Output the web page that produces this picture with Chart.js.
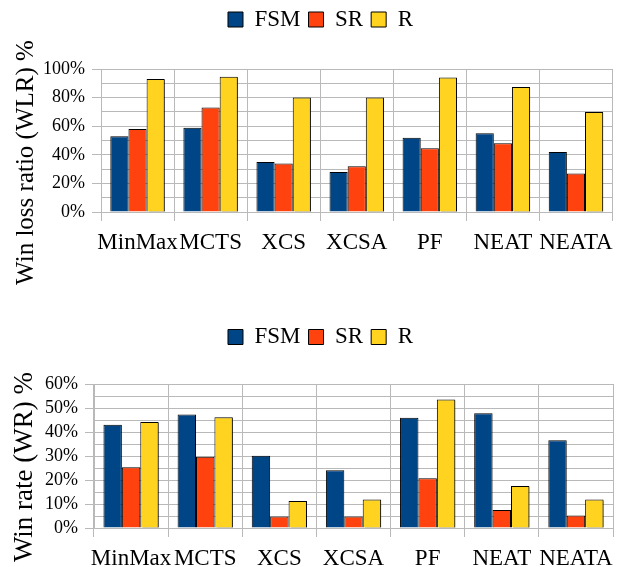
<!DOCTYPE html>
<html>
<head>
<meta charset="utf-8">
<script src="https://cdn.jsdelivr.net/npm/chart.js@4.4.0/dist/chart.umd.min.js"></script>
<style>
  html, body { margin: 0; padding: 0; background: #ffffff; }
  #wrap { position: relative; width: 621px; height: 567px; overflow: hidden; }
  #wlr { position: absolute; left: 0; top: 0; }
  #wr { position: absolute; left: 0; top: 300px; }
</style>
</head>
<body>
<div id="wrap">
  <canvas id="wlr" width="621" height="300"></canvas>
  <canvas id="wr" width="621" height="267"></canvas>
</div>
<script>
// Agents compared in both panels
const agents = ['MinMax', 'MCTS', 'XCS', 'XCSA', 'PF', 'NEAT', 'NEATA'];
const seriesNames = ['FSM', 'SR', 'R'];

// Win loss ratio (%) per opponent
const wlrFSM = [53, 59, 35, 28, 52, 55, 42];
const wlrSR  = [58, 73, 34, 32, 44.5, 48, 27];
const wlrR   = [93, 94.5, 80, 80, 94, 87.5, 70];

// Win rate (%) per opponent
const wrFSM = [43, 47.3, 30.1, 24.1, 45.9, 47.8, 36.6];
const wrSR  = [25.3, 29.7, 4.8, 4.8, 20.7, 7.5, 5.2];
const wrR   = [44.2, 46.1, 11.2, 11.9, 53.5, 17.5, 11.9];

// Labelled ticks of each value axis
const wlrTicks = [0, 20, 40, 60, 80, 100];
const wrTicks  = [0, 10, 20, 30, 40, 50, 60];

const wlrTitle = 'Win loss ratio (WLR) %';
const wrTitle  = 'Win rate (WR) %';

const colors = ['#004586', '#ff420e', '#ffd320'];
const gridColor = '#b9b9b9';
const serif = "'Liberation Serif', 'Times New Roman', serif";

// Extra room between the legend and the plot
const legendGap = {
  id: 'legendGap',
  beforeInit(chart, args, opts) {
    const fit = chart.legend.fit;
    chart.legend.fit = function () {
      fit.call(this);
      this.height += opts.gap;
    };
  }
};

// Drop shadow on the right-hand bar of each group
const barShadow = {
  id: 'barShadow',
  beforeDatasetDraw(chart, args) {
    const c = chart.ctx;
    c.save();
    if (args.index === chart.data.datasets.length - 1) {
      c.shadowColor = 'rgba(0,0,0,0.45)';
      c.shadowOffsetX = 2;
      c.shadowOffsetY = 1;
      c.shadowBlur = 0;
    }
  },
  afterDatasetDraw(chart) {
    chart.ctx.restore();
  }
};

// Rotated value-axis title, placed beside the tick labels
const sideTitle = {
  id: 'sideTitle',
  afterDraw(chart, args, o) {
    const c = chart.ctx;
    const a = chart.chartArea;
    c.save();
    c.translate(o.x, (a.top + a.bottom) / 2 + o.shift);
    c.rotate(-Math.PI / 2);
    c.font = o.size + 'px ' + serif;
    c.fillStyle = '#000';
    c.textAlign = 'center';
    c.textBaseline = 'alphabetic';
    c.fillText(o.text, 0, 0);
    c.restore();
  }
};

function makeChart(id, series, labelled, maxVal, minorStep, cfg) {
  const datasets = series.map((vals, i) => ({
    label: seriesNames[i],
    data: vals,
    backgroundColor: colors[i],
    borderColor: '#000000',
    borderWidth: 1,
    categoryPercentage: 0.745,
    barPercentage: 1.0
  }));

  return new Chart(document.getElementById(id), {
    type: 'bar',
    data: { labels: agents, datasets },
    plugins: [legendGap, barShadow, sideTitle],
    options: {
      responsive: false,
      animation: false,
      devicePixelRatio: 1,
      layout: { padding: { left: 24, right: 4, top: cfg.padTop, bottom: 0 } },
      plugins: {
        legend: {
          position: 'top',
          align: 'center',
          labels: {
            boxWidth: 15,
            boxHeight: 15,
            padding: 8,
            color: '#000',
            font: { family: serif, size: 23 }
          }
        },
        legendGap: { gap: cfg.gap },
        sideTitle: { text: cfg.title, x: cfg.titleX, shift: cfg.titleShift, size: cfg.titleSize },
        tooltip: { enabled: false }
      },
      scales: {
        x: {
          grid: {
            color: gridColor,
            lineWidth: 1,
            tickLength: 9,
            offset: true
          },
          border: { color: gridColor },
          ticks: {
            color: '#000',
            padding: 8,
            maxRotation: 0,
            autoSkip: false,
            font: { family: serif, size: 23 }
          },
          afterFit(scale) { scale.height = cfg.xHeight; }
        },
        y: {
          min: 0,
          max: maxVal,
          grid: {
            color: gridColor,
            lineWidth: 1,
            tickLength: 9,
            tickColor: ctx => labelled.includes(ctx.tick.value) ? gridColor : 'rgba(0,0,0,0)'
          },
          border: { color: gridColor },
          ticks: {
            stepSize: minorStep,
            color: '#000',
            padding: 7,
            autoSkip: false,
            font: { family: serif, size: 18 },
            callback: v => labelled.includes(v) ? v + '%' : ''
          },
          afterFit(scale) { scale.width = cfg.yWidth; }
        }
      }
    }
  });
}

makeChart('wlr', [wlrFSM, wlrSR, wlrR], wlrTicks, 100, 10, {
  padTop: 0, gap: 28, xHeight: 88, yWidth: 77,
  title: wlrTitle, titleX: 33, titleShift: 22, titleSize: 25
});

makeChart('wr', [wrFSM, wrSR, wrR], wrTicks, 60, 5, {
  padTop: 17.5, gap: 25.5, xHeight: 39, yWidth: 70,
  title: wrTitle, titleX: 32, titleShift: 11, titleSize: 27
});
</script>
</body>
</html>
